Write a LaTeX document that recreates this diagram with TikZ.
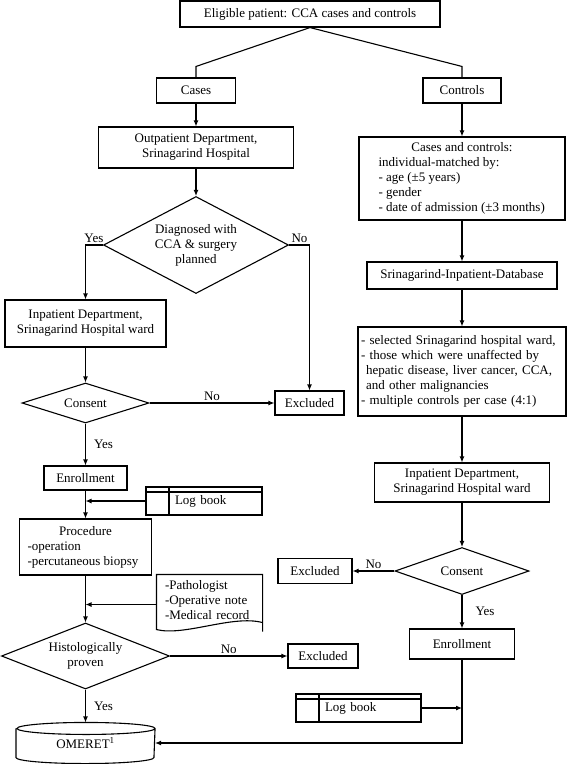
\documentclass[tikz,border=0pt]{standalone}
\usepackage{fontspec}
\setmainfont{Liberation Serif}
\usepackage{tikz}
\usetikzlibrary{arrows.meta,positioning,calc,shapes.geometric}
\tikzstyle{block}=[draw,rectangle,inner sep=2pt,align=center]
\tikzstyle{decision}=[draw,diamond,aspect=2.2,inner sep=0pt,align=center]
\tikzstyle{docbox}=[rectangle,inner xsep=8pt,inner ysep=0pt,align=left]
\tikzstyle{drum}=[rectangle,inner sep=0pt]
\tikzstyle{yn}=[inner sep=2pt]
\tikzset{logbox/.style={draw,rectangle,inner sep=0pt,text width=#1,minimum height=28pt,align=left,
  path picture={\draw ([xshift=23pt]path picture bounding box.north west) -- ([xshift=23pt]path picture bounding box.south west);
  \draw ([yshift=-5pt]path picture bounding box.north west) -- ([yshift=-5pt]path picture bounding box.north east);}}}

\begin{document}
\begin{tikzpicture}[x=1pt,y=-1pt,line width=1.1pt,>={Latex[length=6pt,width=5pt]},font=\fontsize{13}{15}\selectfont]
\useasboundingbox (0,0) rectangle (567,764);

\node [block,minimum width=260pt,minimum height=26pt] (eligible) at (310,14) {Eligible patient: CCA cases and controls};
\node [block,minimum width=79pt,minimum height=25pt] (cases) at (196,90.5) {Cases};
\node [block,minimum width=78pt,minimum height=25pt] (controls) at (462,90.5) {Controls};

\node [block,minimum width=195pt,minimum height=41pt] (outpat) at (196,147.5) {Outpatient Department,\\ Srinagarind Hospital};
\node [decision,minimum width=185pt,minimum height=97pt] (diag) at (196,245) {Diagnosed with\\ CCA \& surgery\\ planned};
\node [block,minimum width=161pt,minimum height=47pt] (inpatL) at (85.5,323.5) {Inpatient Department,\\ Srinagarind Hospital ward};
\node [decision,minimum width=127pt,minimum height=40pt] (consL) at (85.5,403) {Consent};
\node [block,minimum width=69pt,minimum height=24pt] (exclA) at (309.5,403) {Excluded};
\node [block,minimum width=83pt,minimum height=24pt] (enrollL) at (85.5,478) {Enrollment};
\node [logbox=116pt] (logL) at (204,501) {\hspace*{29pt}Log book};
\node [block,minimum width=132pt,minimum height=56pt] (proc) at (85.5,547) {Procedure\\ \makebox[116pt][l]{-operation}\\ \makebox[116pt][l]{-percutaneous biopsy}};
\node [docbox,text width=89pt,minimum height=51pt] (doc) at (209.5,600.5) {-Pathologist\\ -Operative note\\ -Medical record};
\node [decision,minimum width=168pt,minimum height=66pt] (histo) at (85.5,656) {Histologically\\ proven};
\node [block,minimum width=70pt,minimum height=24pt] (exclB) at (323,656) {Excluded};
\node [drum,minimum width=138pt,minimum height=40pt] (omeret) at (85.5,743) {OMERET\textsuperscript{1}};

\node [block,minimum width=206pt,minimum height=83pt] (ccbox) at (462,178.5) {Cases and controls:\\ \makebox[167pt][l]{individual-matched by:}\\ \makebox[167pt][l]{- age (±5 years)}\\ \makebox[167pt][l]{- gender}\\ \makebox[167pt][l]{- date of admission (±3 months)}};
\node [block,minimum width=190pt,minimum height=27pt] (dbbox) at (462,275.5) {Srinagarind-Inpatient-Database};
\node [block,align=left,inner xsep=3pt,text width=202pt,minimum height=89pt] (selbox) at (462,371.5) {- selected Srinagarind hospital ward,\\ - those which were unaffected by\\ \hspace*{5pt}hepatic disease, liver cancer, CCA,\\ \hspace*{5pt}and other malignancies\\ - multiple controls per case (4:1)};
\node [block,minimum width=175pt,minimum height=39pt] (inpatR) at (462,482.5) {Inpatient Department,\\ Srinagarind Hospital ward};
\node [decision,minimum width=134pt,minimum height=47pt] (consR) at (462,571) {Consent};
\node [block,minimum width=74pt,minimum height=25pt] (exclC) at (315,571) {Excluded};
\node [block,minimum width=105pt,minimum height=30pt] (enrollR) at (462,644) {Enrollment};
\node [logbox=125pt] (logR) at (358.5,708) {\hspace*{29pt}Log book};

\draw ([yshift=-5pt]doc.south east) -- (doc.north east) -- (doc.north west) -- ([yshift=-3pt]doc.south west)
  .. controls ([xshift=28pt,yshift=-10pt]doc.south west) and ([xshift=-30pt,yshift=12pt]doc.south east) .. ([yshift=4pt]doc.south east);
\draw ([yshift=-6pt]omeret.north west) -- ([yshift=6pt]omeret.south west)
  arc[start angle=180,end angle=360,x radius=69pt,y radius=6pt] -- ([yshift=-6pt]omeret.north east)
  arc[start angle=0,end angle=360,x radius=69pt,y radius=6pt];
\coordinate (docin) at ($(doc.west)+(0,4)$);

\draw (eligible.south) -- ($(cases.north)+(0,-11)$) -- (cases.north);
\draw (eligible.south) -- ($(controls.north)+(0,-11)$) -- (controls.north);
\draw[->] (cases.south) -- (outpat.north);
\draw[->] (outpat.south) -- (diag.north);
\draw[->] (diag.west) -| node[pos=0,anchor=south east,yn,xshift=3pt]{Yes} (inpatL.north);
\draw[->] (diag.east) -| node[pos=0,anchor=south west,yn]{No} (exclA.north);
\draw[->] (inpatL.south) -- (consL.north);
\draw[->] (consL.east) -- node[above,yn]{No} (exclA.west);
\draw[->] (consL.south) -- node[right=6pt,yn]{Yes} (enrollL.north);
\draw[->] (enrollL.south) -- (proc.north);
\draw[->] (logL.west) -- (logL.west -| enrollL.south);
\draw[->] (proc.south) -- (histo.north);
\draw[->] (docin) -- (docin -| proc.south);
\draw[->] (histo.east) -- node[above,yn]{No} (exclB.west);
\draw[->] (histo.south) -- node[right=6pt,yn]{Yes} (omeret.north);

\draw[->] (controls.south) -- (ccbox.north);
\draw[->] (ccbox.south) -- (dbbox.north);
\draw[->] (dbbox.south) -- (selbox.north);
\draw[->] (selbox.south) -- (inpatR.north);
\draw[->] (inpatR.south) -- (consR.north);
\draw[->] (consR.west) -- node[above,yn]{No} (exclC.east);
\draw[->] (consR.south) -- node[right=11pt,yn]{Yes} (enrollR.north);
\draw[->] (enrollR.south) |- (omeret.east);
\draw[->] (logR.east) -- (logR.east -| enrollR.south);
\end{tikzpicture}
\end{document}
